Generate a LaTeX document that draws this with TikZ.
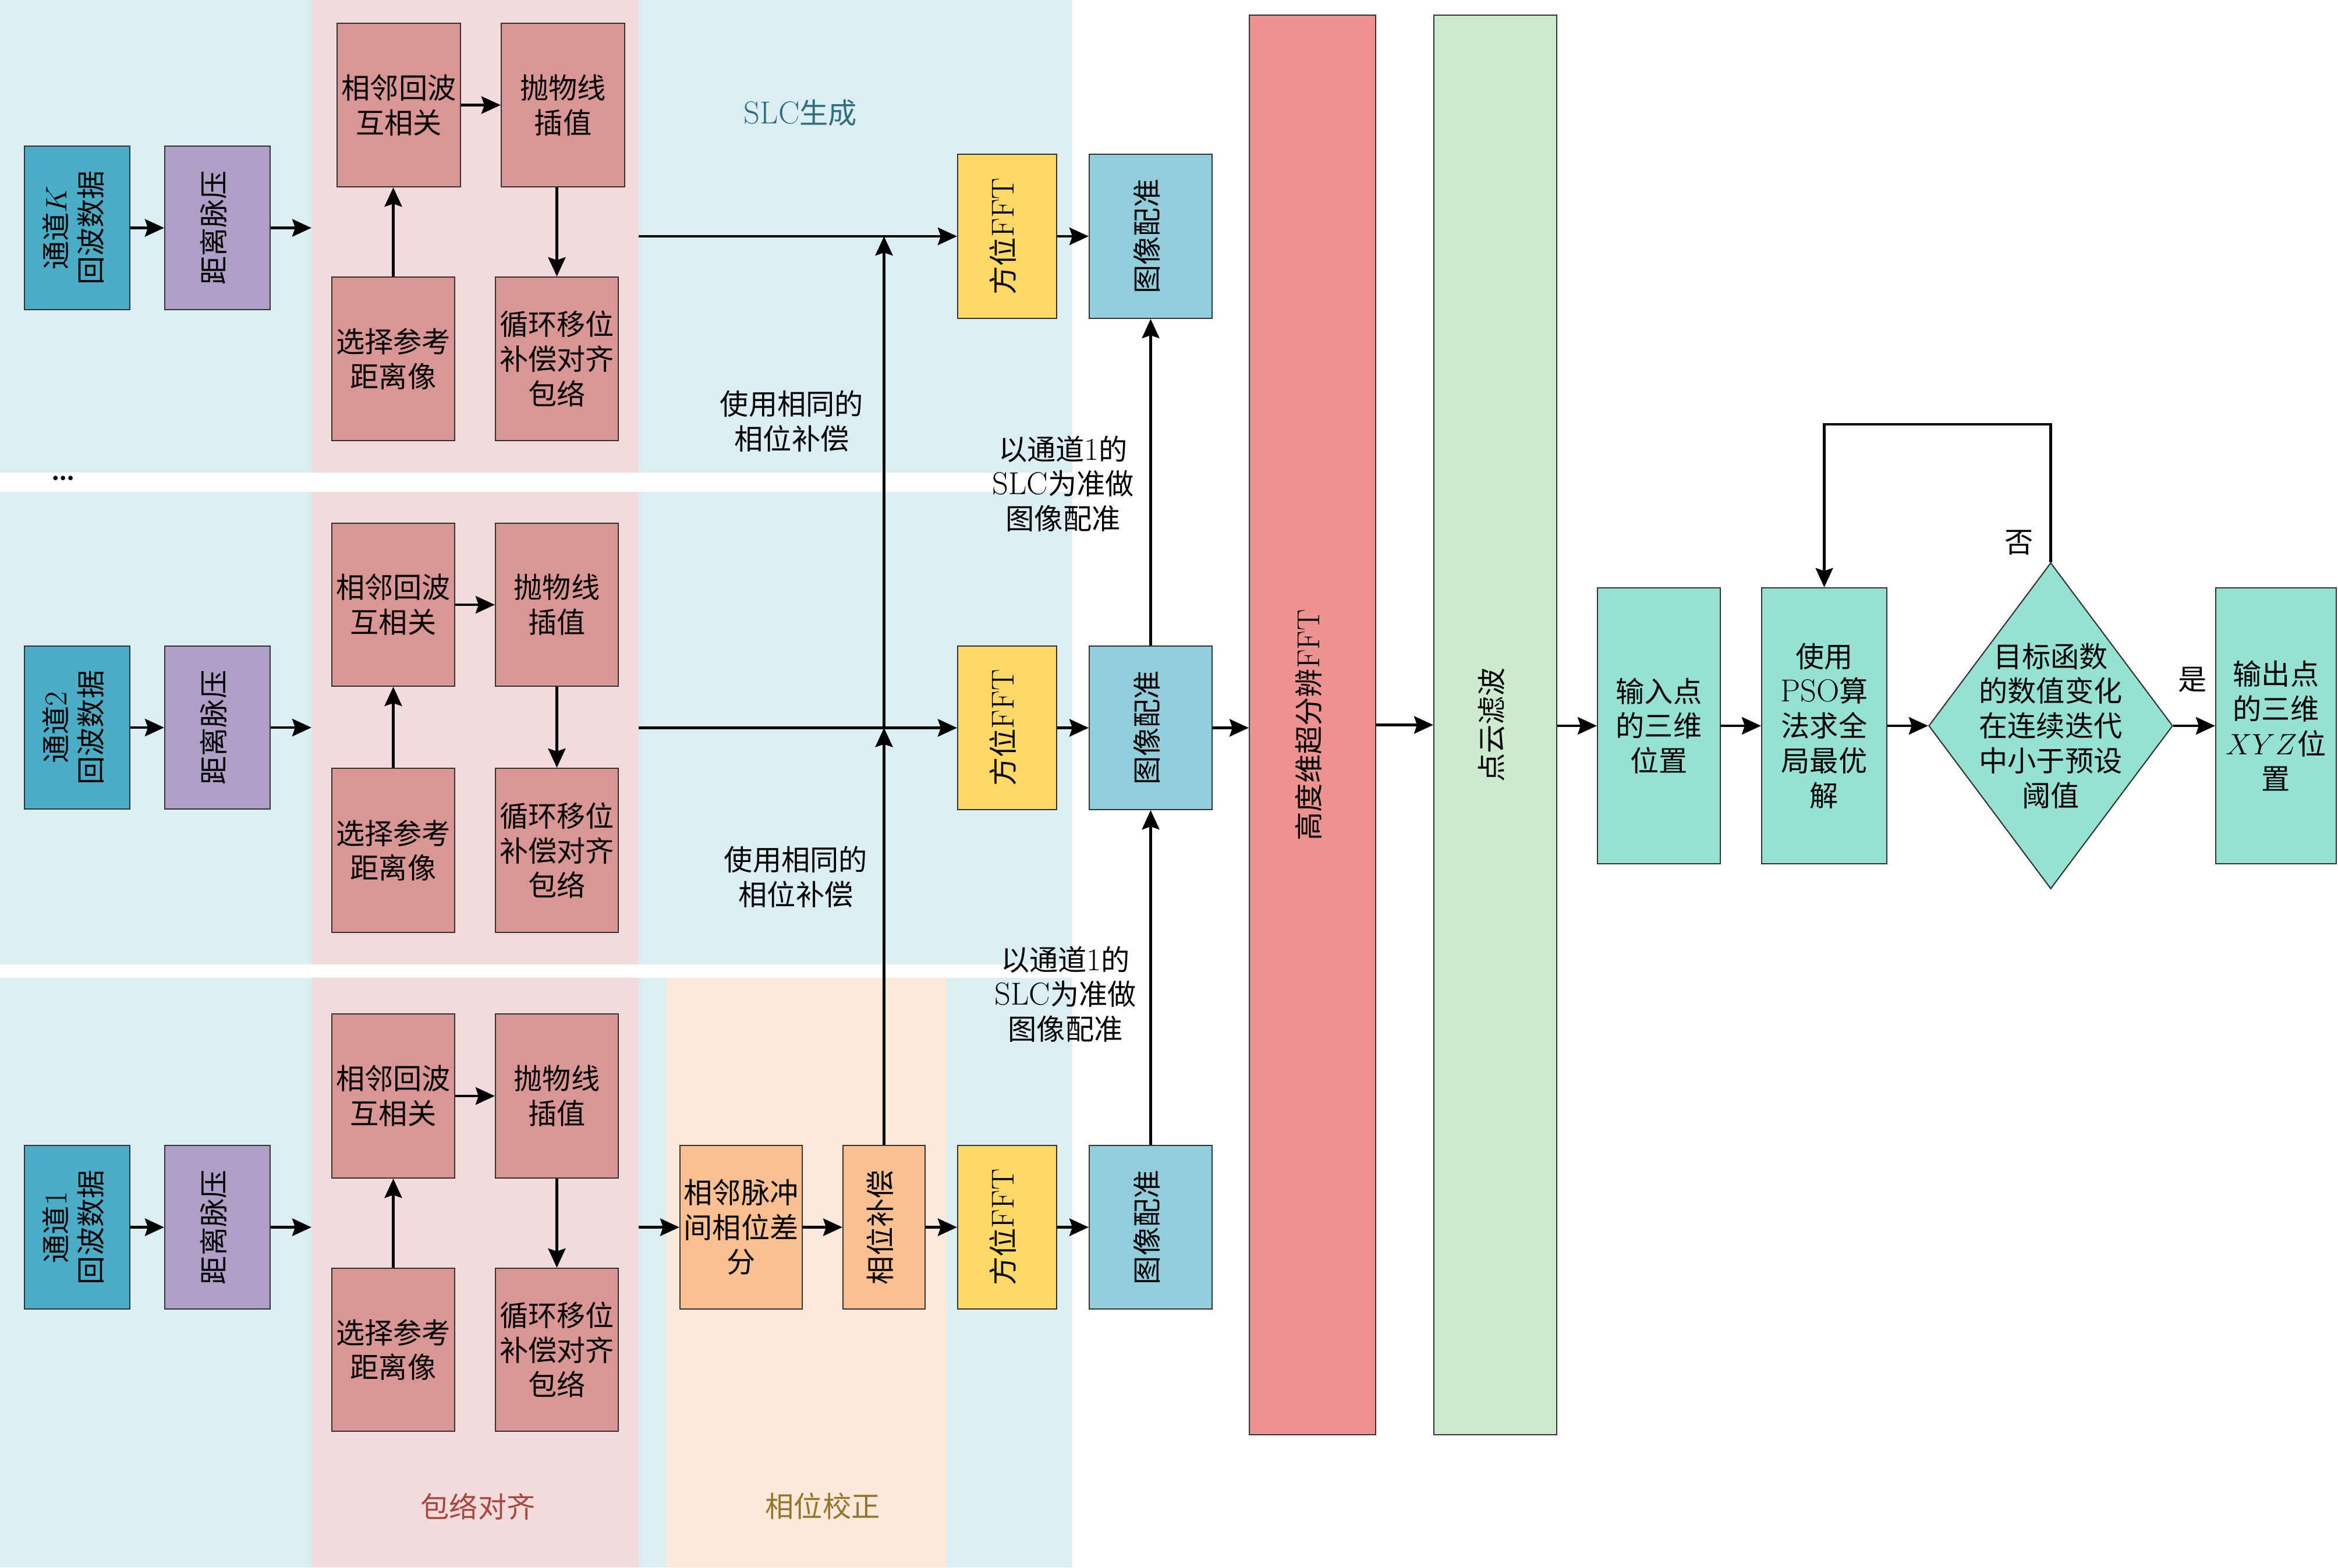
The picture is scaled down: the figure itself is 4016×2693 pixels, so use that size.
\documentclass[tikz,border=0pt]{standalone}
\usepackage{fontspec}
\newfontfamily\cjk{Noto Sans CJK SC}
\usetikzlibrary{arrows.meta,shapes.geometric}
\definecolor{bgblue}{HTML}{DAEEF3}
\definecolor{bgpink}{HTML}{F2DCDB}
\definecolor{bgpeach}{HTML}{FDE9D9}
\definecolor{chanc}{HTML}{4BACC6}
\definecolor{rcompc}{HTML}{AE9FC6}
\definecolor{envc}{HTML}{D99694}
\definecolor{phc}{HTML}{FAC090}
\definecolor{fftc}{HTML}{FFD966}
\definecolor{regc}{HTML}{92CDDC}
\definecolor{redbar}{HTML}{EC938F}
\definecolor{greenbar}{HTML}{CDEBCF}
\definecolor{tealc}{HTML}{95E1D3}
\definecolor{slctext}{HTML}{316E7D}
\definecolor{envtext}{HTML}{A9463F}
\definecolor{phtext}{HTML}{93762A}
\newcommand\lat[1]{{\rmfamily\fontsize{15.5}{17}\selectfont #1}}
\newcommand\vtext[1]{\rotatebox{90}{\begin{tabular}{@{}c@{}}#1\end{tabular}}}
\begin{document}
\begin{tikzpicture}[x=0.01cm,y=-0.01cm,
  every node/.style={font=\cjk\fontsize{14}{17}\selectfont},
  bx/.style n args={3}{draw=black!80, line width=0.6pt, fill=#1, inner sep=0pt,
     minimum width=#2*0.01cm, minimum height=#3*0.01cm, align=center},
  arr/.style={line width=1.2pt, -{Stealth[length=3.3mm,width=3.0mm,inset=0.5mm]}},
  lbl/.style={align=center, inner sep=0pt},
]
\useasboundingbox (0,0) rectangle (4016,2693);
% backgrounds
\fill[bgblue] (0,0) rectangle (535,812);
\fill[bgpink] (535,0) rectangle (1097,812);
\fill[bgblue] (1097,0) rectangle (1842,812);
\fill[bgblue] (0,845) rectangle (535,1657);
\fill[bgpink] (535,845) rectangle (1097,1657);
\fill[bgblue] (1097,845) rectangle (1842,1657);
\fill[bgblue] (0,1680) rectangle (535,2693);
\fill[bgpink] (535,1680) rectangle (1097,2693);
\fill[bgblue] (1097,1680) rectangle (1145,2693);
\fill[bgpeach] (1145,1680) rectangle (1626,2693);
\fill[bgblue] (1626,1680) rectangle (1842,2693);

% row K
\node[bx={chanc}{181}{281}] (chK) at (132.5,391.5) {\vtext{通道\lat{$K$}\\回波数据}};
\node[bx={rcompc}{181}{281}] (rcK) at (373.5,391.5) {\vtext{距离脉压}};
\node[bx={envc}{212}{281}] (adjK) at (685,180.5) {相邻回波\\互相关};
\node[bx={envc}{212}{281}] (parK) at (967,180.5) {抛物线\\插值};
\node[bx={envc}{211}{281}] (selK) at (675.5,616.5) {选择参考\\距离像};
\node[bx={envc}{211}{281}] (cycK) at (956.5,616.5) {循环移位\\补偿对齐\\包络};
\node[bx={fftc}{170}{282}] (fftK) at (1730,406) {\vtext{方位\lat{FFT}}};
\node[bx={regc}{211}{282}] (regK) at (1976.5,406) {\vtext{图像配准}};
\coordinate (eK) at (535,391.5);
\coordinate (sK) at (1097,406);

% row 2
\node[bx={chanc}{181}{280}] (ch2) at (132.5,1250) {\vtext{通道\lat{2}\\回波数据}};
\node[bx={rcompc}{181}{280}] (rc2) at (373.5,1250) {\vtext{距离脉压}};
\node[bx={envc}{211}{280}] (adj2) at (675.5,1039) {相邻回波\\互相关};
\node[bx={envc}{211}{280}] (par2) at (956.5,1039) {抛物线\\插值};
\node[bx={envc}{211}{282}] (sel2) at (675.5,1461) {选择参考\\距离像};
\node[bx={envc}{211}{282}] (cyc2) at (956.5,1461) {循环移位\\补偿对齐\\包络};
\node[bx={fftc}{170}{281}] (fft2) at (1730,1250.5) {\vtext{方位\lat{FFT}}};
\node[bx={regc}{211}{281}] (reg2) at (1976.5,1250.5) {\vtext{图像配准}};
\coordinate (e2) at (535,1250);
\coordinate (s2) at (1097,1250.5);

% row 1
\node[bx={chanc}{181}{281}] (ch1) at (132.5,2108.5) {\vtext{通道\lat{1}\\回波数据}};
\node[bx={rcompc}{181}{281}] (rc1) at (373.5,2108.5) {\vtext{距离脉压}};
\node[bx={envc}{211}{282}] (adj1) at (675.5,1883) {相邻回波\\互相关};
\node[bx={envc}{211}{282}] (par1) at (956.5,1883) {抛物线\\插值};
\node[bx={envc}{211}{280}] (sel1) at (675.5,2319) {选择参考\\距离像};
\node[bx={envc}{211}{280}] (cyc1) at (956.5,2319) {循环移位\\补偿对齐\\包络};
\node[bx={phc}{210}{281}] (pd) at (1273,2108.5) {相邻脉冲\\间相位差\\分};
\node[bx={phc}{141}{281}] (pc) at (1518.5,2108.5) {\vtext{相位补偿}};
\node[bx={fftc}{170}{281}] (fft1) at (1730,2108.5) {\vtext{方位\lat{FFT}}};
\node[bx={regc}{211}{281}] (reg1) at (1976.5,2108.5) {\vtext{图像配准}};
\coordinate (e1) at (535,2108.5);
\coordinate (s1) at (1097,2108.5);

% right part
\node[bx={redbar}{217}{2439}] (red) at (2254.5,1245.5) {\vtext{高度维超分辨\lat{FFT}}};
\node[bx={greenbar}{211}{2439}] (green) at (2568.5,1245.5) {\vtext{点云滤波}};
\node[bx={tealc}{211}{474}] (in) at (2849.5,1247) {输入点\\的三维\\位置};
\node[bx={tealc}{215}{474}] (pso) at (3133.5,1247) {使用\\\lat{PSO}算\\法求全\\局最优\\解};
\node[draw=black!80, line width=0.6pt, fill=tealc, diamond, inner sep=0pt,
      minimum width=4.19cm, minimum height=5.6cm] (dia) at (3522.5,1247) {};
\node[lbl] (diat) at (dia.center) {目标函数\\的数值变化\\在连续迭代\\中小于预设\\阈值};
\node[bx={tealc}{207}{474}] (out) at (3909.5,1247) {输出点\\的三维\\\lat{$XYZ$}位\\置};

% labels
\node[lbl, text=slctext] (slc) at (1375,194) {\lat{SLC}生成};
\node[lbl] (sameK) at (1360,724) {使用相同的\\相位补偿};
\node[lbl] (same2) at (1367,1507) {使用相同的\\相位补偿};
\node[lbl] (refK) at (1826,831) {以通道\lat{1}的\\\lat{SLC}为准做\\图像配准};
\node[lbl] (ref2) at (1830,1708) {以通道\lat{1}的\\\lat{SLC}为准做\\图像配准};
\node[lbl, text=envtext] (envl) at (821,2588) {包络对齐};
\node[lbl, text=phtext] (phl) at (1413,2588) {相位校正};
\node[lbl, font=\rmfamily\bfseries\fontsize{15}{17}\selectfont] (dots) at (109,822) {\dots};
\node[lbl] (no) at (3468,932) {否};
\node[lbl] (yes) at (3766,1168) {是};

% connectors row K
\draw[arr] (chK.east) -- (rcK.west);
\draw[arr] (rcK.east) -- (eK);
\draw[arr] (adjK.east) -- (parK.west);
\draw[arr] (selK.north) -- (selK.north |- adjK.south);
\draw[arr] (cycK.north |- parK.south) -- (cycK.north);
\draw[arr] (sK) -- (fftK.west);
\draw[arr] (fftK.east) -- (regK.west);
% row 2
\draw[arr] (ch2.east) -- (rc2.west);
\draw[arr] (rc2.east) -- (e2);
\draw[arr] (adj2.east) -- (par2.west);
\draw[arr] (sel2.north) -- (adj2.south);
\draw[arr] (par2.south) -- (cyc2.north);
\draw[arr] (s2) -- (fft2.west);
\draw[arr] (fft2.east) -- (reg2.west);
% row 1
\draw[arr] (ch1.east) -- (rc1.west);
\draw[arr] (rc1.east) -- (e1);
\draw[arr] (adj1.east) -- (par1.west);
\draw[arr] (sel1.north) -- (adj1.south);
\draw[arr] (par1.south) -- (cyc1.north);
\draw[arr] (s1) -- (pd.west);
\draw[arr] (pd.east) -- (pc.west);
\draw[arr] (pc.east) -- (fft1.west);
\draw[arr] (fft1.east) -- (reg1.west);
% vertical links
\draw[arr] (pc.north) -- (pc.north |- fft2.west);
\draw[arr] (pc.north |- fft2.west) -- (pc.north |- fftK.west);
\draw[arr] (reg1.north) -- (reg2.south);
\draw[arr] (reg2.north) -- (regK.south);
% right flow
\draw[arr] (reg2.east) -- (reg2.east -| red.west);
\draw[arr] (red.east) -- (green.west);
\draw[arr] (green.east |- in.west) -- (in.west);
\draw[arr] (in.east) -- (pso.west);
\draw[arr] (pso.east) -- (dia.west);
\draw[arr] (dia.east) -- (out.west);
\draw[arr] (dia.north) -- ++(0,-237) -| (pso.north);
\end{tikzpicture}
\end{document}
